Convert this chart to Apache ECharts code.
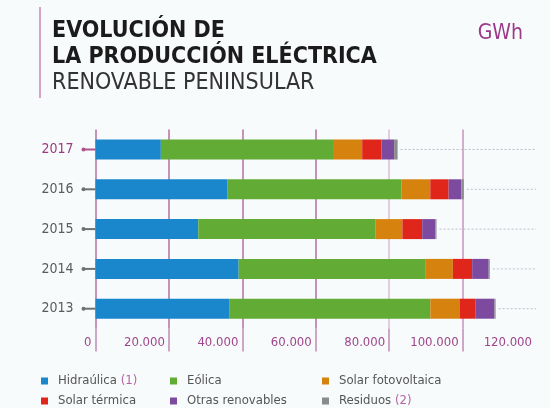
<!DOCTYPE html>
<html>
<head>
<meta charset="utf-8">
<script src="https://cdn.jsdelivr.net/npm/echarts@6/dist/echarts.min.js"></script>
<style>
  html, body { margin: 0; padding: 0; background: #f8fbfc; }
  #chart { width: 550px; height: 408px; }
</style>
</head>
<body>
<div id="chart"></div>
<script>
const years = ['2013', '2014', '2015', '2016', '2017']
const hidraulica = [36400, 39000, 28000, 36000, 17800]
const eolica = [54800, 50800, 48200, 47300, 46900]
const solarFV = [7950, 7550, 7400, 7900, 7950]
const solarTermica = [4300, 5260, 5400, 5000, 5250]
const otras = [5250, 4500, 3600, 3450, 3450]
const residuos = [300, 300, 300, 670, 950]
const tickValues = [0, 20000, 40000, 60000, 80000, 100000]
const xMax = 120000
const highlightYear = '2017'

const colors = ['#1a86cc', '#62ac35', '#d6820f', '#e0261a', '#7c4a9e', '#8a8b8c']
const font = '"DejaVu Sans Condensed", "DejaVu Sans", sans-serif'

const totals = years.map((y, i) =>
  hidraulica[i] + eolica[i] + solarFV[i] + solarTermica[i] + otras[i] + residuos[i])

function fmt(v) {
  return String(v).replace(/\B(?=(\d{3})+(?!\d))/g, '.')
}

function barSeries(name, data) {
  return { name: name, type: 'bar', stack: 'total', barWidth: 20, data: data, z: 3 }
}

const legendBase = {
  orient: 'vertical',
  height: 60,
  padding: 0,
  itemWidth: 7,
  itemHeight: 7,
  itemGap: 6,
  icon: 'rect',
  textStyle: {
    fontFamily: font, fontSize: 13, color: '#555', lineHeight: 14, padding: [0, 0, 0, 5],
    rich: { n: { fontFamily: font, fontSize: 13, color: '#b565a5' } }
  },
  formatter: function (name) {
    if (name === 'Hidraúlica') return name + ' {n|(1)}'
    if (name === 'Residuos') return name + ' {n|(2)}'
    return name
  },
  selectedMode: false
}

const chart = echarts.init(document.getElementById('chart'))
chart.setOption({
  backgroundColor: '#f8fbfc',
  color: colors,
  animation: false,
  title: [
    {
      left: 47, top: 13,
      text: '{b|EVOLUCIÓN DE}\n{b|LA PRODUCCIÓN ELÉCTRICA}\n{n|RENOVABLE PENINSULAR}',
      textStyle: {
        rich: {
          b: { fontFamily: font, fontSize: 23, fontWeight: 'bold', color: '#1b1b1b', lineHeight: 26 },
          n: { fontFamily: font, fontSize: 23, fontWeight: 'normal', color: '#333', lineHeight: 26 }
        }
      }
    },
    {
      right: 22, top: 18,
      text: 'GWh',
      textStyle: { fontFamily: font, fontSize: 21, fontWeight: 'normal', color: '#9b3a8a' }
    }
  ],
  graphic: [
    { type: 'line', shape: { x1: 40, y1: 7, x2: 40, y2: 98 }, style: { stroke: '#d4a3c9', lineWidth: 2 } }
  ],
  legend: [
    Object.assign({}, legendBase, { left: 41, top: 374, data: ['Hidraúlica', 'Solar térmica'] }),
    Object.assign({}, legendBase, { left: 170, top: 374, data: ['Eólica', 'Otras renovables'] }),
    Object.assign({}, legendBase, { left: 322, top: 374, data: ['Solar fotovoltaica', 'Residuos'] })
  ],
  grid: { left: 95.5, right: 14, top: 129.6, bottom: 79.4 },
  xAxis: {
    type: 'value',
    min: 0,
    max: xMax,
    interval: 20000,
    axisLine: { show: false },
    axisTick: {
      show: true, length: 23, customValues: tickValues,
      lineStyle: { color: '#c08ab5', width: 1.5 }
    },
    splitLine: {
      show: true,
      lineStyle: {
        width: 1.5,
        color: ['#b46fa3', '#b46fa3', '#b46fa3', '#b46fa3', '#dcbdd5', '#c992bd', 'rgba(0,0,0,0)']
      }
    },
    axisLabel: {
      fontFamily: font, fontSize: 13, color: '#a0468c',
      align: 'right', padding: [0, 4, 0, 0], margin: 8,
      formatter: fmt
    }
  },
  yAxis: {
    type: 'category',
    data: years,
    axisLine: { show: false },
    axisTick: { show: false },
    axisLabel: {
      fontFamily: font, fontSize: 14, margin: 22,
      color: function (v) { return v === highlightYear ? '#9b3a80' : '#5b5b5b' }
    }
  },
  series: [
    barSeries('Hidraúlica', hidraulica),
    barSeries('Eólica', eolica),
    barSeries('Solar fotovoltaica', solarFV),
    barSeries('Solar térmica', solarTermica),
    barSeries('Otras renovables', otras),
    barSeries('Residuos', residuos),
    {
      // dotted guide from the end of each bar to the right edge
      type: 'custom',
      silent: true,
      z: 2,
      encode: { x: 0, y: 1 },
      data: totals.map(function (t, i) { return [t, i] }),
      renderItem: function (params, api) {
        const start = api.coord([api.value(0), api.value(1)])
        const end = api.coord([xMax, api.value(1)])
        return {
          type: 'line',
          shape: { x1: start[0] + 3, y1: start[1], x2: end[0], y2: end[1] },
          style: { stroke: '#b9bdc9', lineWidth: 1, lineDash: [2, 2] }
        }
      }
    },
    {
      // little pin-shaped ticks next to the year labels
      type: 'custom',
      silent: true,
      z: 4,
      clip: false,
      encode: { x: 0, y: 1 },
      data: years.map(function (y, i) { return [0, i] }),
      renderItem: function (params, api) {
        const p = api.coord([0, api.value(1)])
        const c = years[params.dataIndex] === highlightYear ? '#b0528f' : '#707070'
        return {
          type: 'group',
          children: [
            { type: 'line', shape: { x1: p[0] - 12, y1: p[1], x2: p[0], y2: p[1] }, style: { stroke: c, lineWidth: 2 } },
            { type: 'circle', shape: { cx: p[0] - 12, cy: p[1], r: 2 }, style: { fill: c } }
          ]
        }
      }
    }
  ]
})
</script>
</body>
</html>
